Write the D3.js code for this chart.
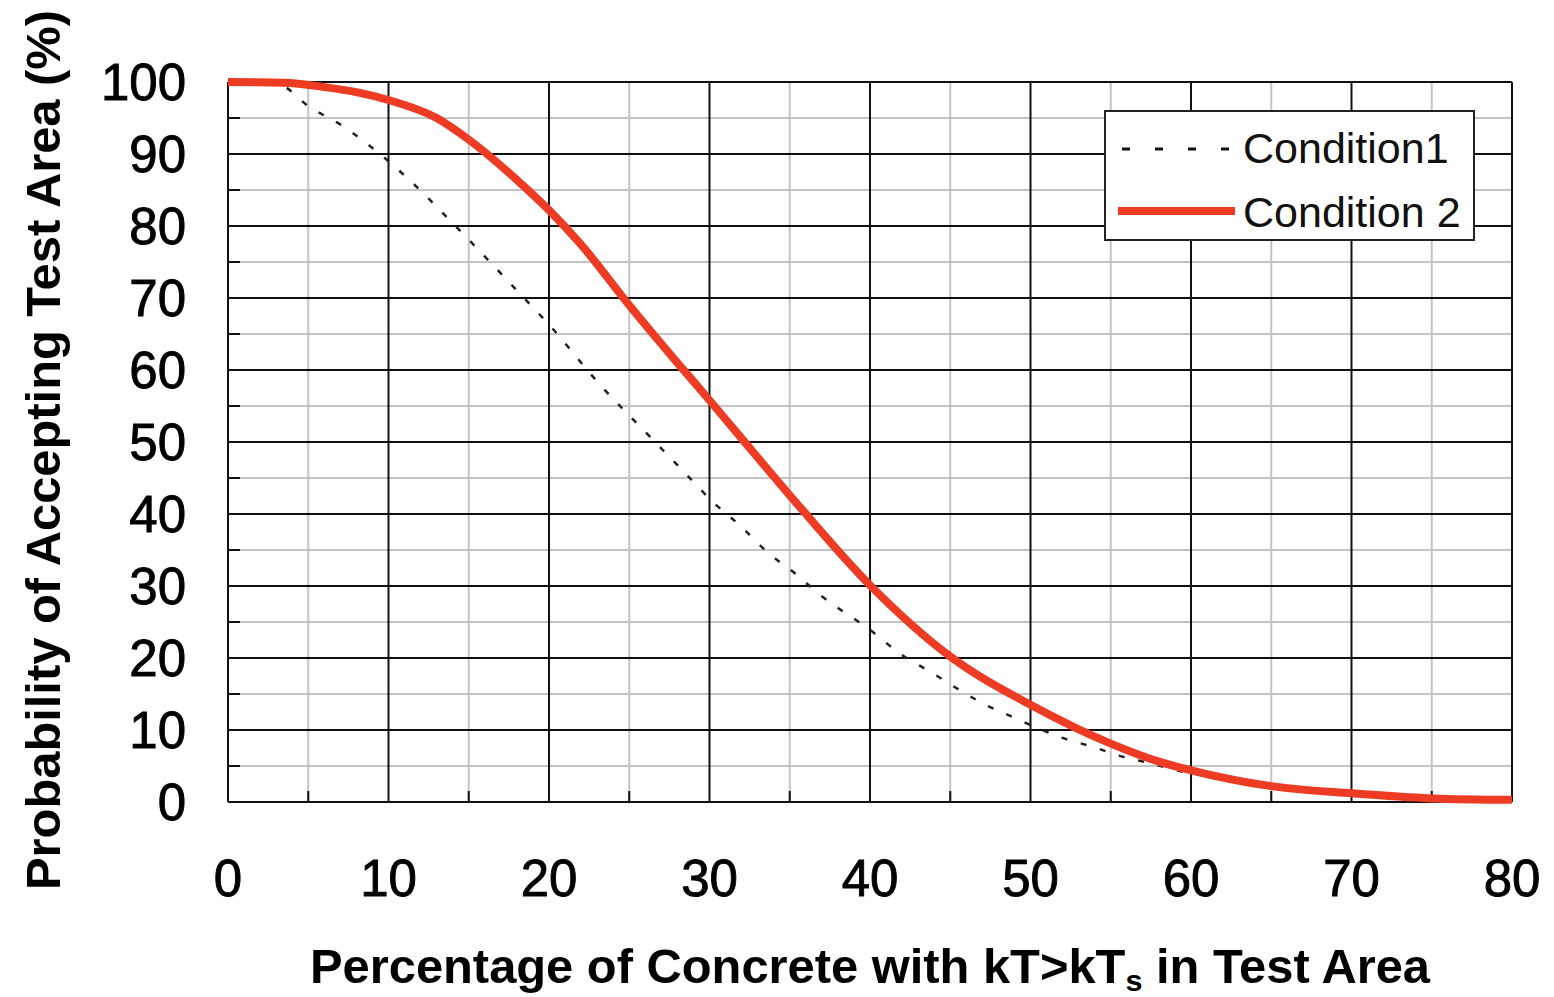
<!DOCTYPE html>
<html><head><meta charset="utf-8">
<script src="https://cdn.jsdelivr.net/npm/d3@7"></script>
<style>body{margin:0;background:#fff}svg{display:block}text{font-family:"Liberation Sans",Arial,sans-serif}</style>
</head><body><svg id="c" width="1554" height="997"></svg>
<script>
const xTicks = [0,10,20,30,40,50,60,70,80];
const yTicks = [0,10,20,30,40,50,60,70,80,90,100];
const minorTicks5X = [5,15,25,35,45,55,65,75];
const minorTicks5Y = [5,15,25,35,45,55,65,75,85,95];
const cond1X = [0,3,5.1,7.2,9.3,11.3,14.3,18.4,20,23.2,26.3,28.3,30.2,32,33.6,35.3,36.9,40,42,43.9,45.4,47.2,49,50.3,52,54.1,55.4,57.4,59.5,62,65,70,75,80];
const cond1Y = [100,99.8,96.5,93.8,90.3,86.4,79.7,70.1,66.3,57.9,50.7,46.1,41.7,38.2,34.7,31.8,28.75,23.9,20.4,17.9,15.8,13.5,11.7,10.4,8.9,7.5,6.5,5.4,4.2,3.3,2.2,1.1,0.5,0.3];
const cond2X = [0,3.5,6,8,10,13,15,18,20,22,25,28,30,32,35,40,45,50,55,58,60,65,70,75,80];
const cond2Y = [100,99.9,99.3,98.6,97.5,95,92,86.4,82.2,77.4,69,61,55.8,50.5,42.6,30.1,20.2,13.5,8.1,5.6,4.4,2.2,1.2,0.5,0.3];
const legendLabels = ["Condition1","Condition 2"];

const svg = d3.select("#c");
const L=228,R=1512,T=82,B=802;
const x = d3.scaleLinear().domain([0,80]).range([L,R]);
const y = d3.scaleLinear().domain([0,100]).range([B,T]);

const g = svg.append("g");
// minor grid
g.selectAll(".mx").data(minorTicks5X).enter().append("line")
 .attr("x1",d=>x(d)).attr("x2",d=>x(d)).attr("y1",T).attr("y2",B)
 .attr("stroke","#c4c4c4").attr("stroke-width",2);
g.selectAll(".my").data(minorTicks5Y).enter().append("line")
 .attr("y1",d=>y(d)).attr("y2",d=>y(d)).attr("x1",L).attr("x2",R)
 .attr("stroke","#c4c4c4").attr("stroke-width",2);
// minor tick marks
g.selectAll(".tx").data(minorTicks5X).enter().append("line")
 .attr("x1",d=>x(d)).attr("x2",d=>x(d)).attr("y1",B-11).attr("y2",B)
 .attr("stroke","#111").attr("stroke-width",2);
g.selectAll(".ty").data(minorTicks5Y).enter().append("line")
 .attr("y1",d=>y(d)).attr("y2",d=>y(d)).attr("x1",L).attr("x2",L+12)
 .attr("stroke","#111").attr("stroke-width",2);
// major grid
g.selectAll(".Mx").data(xTicks).enter().append("line")
 .attr("x1",d=>x(d)).attr("x2",d=>x(d)).attr("y1",T).attr("y2",B)
 .attr("stroke","#111").attr("stroke-width",2);
g.selectAll(".My").data(yTicks).enter().append("line")
 .attr("y1",d=>y(d)).attr("y2",d=>y(d)).attr("x1",L).attr("x2",R)
 .attr("stroke","#111").attr("stroke-width",2);

// tick labels
const tl = {"font-size":"51px","fill":"#000","stroke":"#000","stroke-width":"0.9"};
const yl = g.selectAll(".yl").data(yTicks).enter().append("text")
 .attr("x",186).attr("y",d=>y(d)).attr("dy","0.36em").attr("text-anchor","end").text(d=>d);
const xl = g.selectAll(".xl").data(xTicks).enter().append("text")
 .attr("x",d=>x(d)).attr("y",896).attr("text-anchor","middle").text(d=>d);
[yl,xl].forEach(s=>{for(const k in tl) s.attr(k,tl[k]);});

// lines
const line = d3.line().x(d=>x(d[0])).y(d=>y(d[1])).curve(d3.curveMonotoneX);
const d1 = cond1X.map((v,i)=>[v,cond1Y[i]]);
const d2 = cond2X.map((v,i)=>[v,cond2Y[i]]);
g.append("path").attr("d",line(d1)).attr("fill","none").attr("stroke","#222")
 .attr("stroke-width",2.5).attr("stroke-dasharray","6,14");
g.append("path").attr("d",line(d2)).attr("fill","none").attr("stroke","#ee3b24")
 .attr("stroke-width",8).attr("stroke-linejoin","round");

// legend
const lg = svg.append("g");
lg.append("rect").attr("x",1105).attr("y",111).attr("width",369).attr("height",129)
 .attr("fill","#fff").attr("stroke","#222").attr("stroke-width",2);
lg.append("line").attr("x1",1122).attr("x2",1232).attr("y1",149).attr("y2",149)
 .attr("stroke","#111").attr("stroke-width",3).attr("stroke-dasharray","8,25");
lg.append("line").attr("x1",1118).attr("x2",1235).attr("y1",211).attr("y2",211)
 .attr("stroke","#ee3b24").attr("stroke-width",8);
lg.selectAll(".lt").data(legendLabels).enter().append("text")
 .attr("x",1243).attr("y",(d,i)=>163+i*64).attr("font-size","43px").attr("fill","#111")
 .text(d=>d);

// axis titles
const xt = svg.append("text").attr("x",870).attr("y",983).attr("text-anchor","middle")
 .attr("font-size","48px").attr("font-weight","bold").attr("fill","#000")
 .attr("textLength",1120).attr("lengthAdjust","spacingAndGlyphs");
xt.append("tspan").text("Percentage of Concrete with kT>kT");
xt.append("tspan").attr("font-size","30px").attr("dy","8").text("s");
xt.append("tspan").attr("dy","-8").text(" in Test Area");
svg.append("text").attr("transform","translate(60,450) rotate(-90)").attr("text-anchor","middle")
 .attr("font-size","48px").attr("font-weight","bold").attr("fill","#000")
 .attr("textLength",880).attr("lengthAdjust","spacingAndGlyphs")
 .text("Probability of Accepting Test Area (%)");
</script></body></html>
